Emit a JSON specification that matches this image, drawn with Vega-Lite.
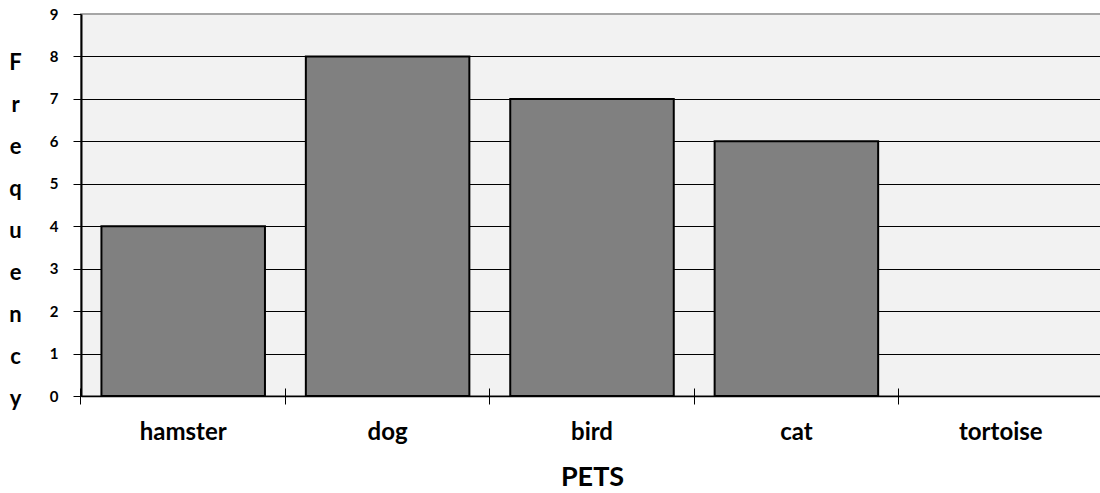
{
  "$schema": "https://vega.github.io/schema/vega-lite/v6.json",
  "autosize": "none",
  "width": 1022,
  "height": 382,
  "padding": {"left": 81, "top": 14, "right": 0, "bottom": 97},
  "config": {
    "font": "Lato",
    "view": {"fill": "#f2f2f2", "stroke": "#a6a6a6", "strokeWidth": 2}
  },
  "data": {
    "values": [
      {"pet": "hamster", "frequency": 4},
      {"pet": "dog", "frequency": 8},
      {"pet": "bird", "frequency": 7},
      {"pet": "cat", "frequency": 6},
      {"pet": "tortoise", "frequency": 0}
    ]
  },
  "layer": [
    {
      "mark": {"type": "bar", "fill": "#808080", "stroke": "#000000", "strokeWidth": 2},
      "encoding": {
        "x": {
          "field": "pet",
          "type": "nominal",
          "sort": null,
          "scale": {"paddingInner": 0.2, "paddingOuter": 0.1},
          "axis": {
            "title": "PETS",
            "titleFontSize": 27,
            "titleFontWeight": "bold",
            "titleColor": "#000000",
            "titlePadding": 20,
            "labelAngle": 0,
            "labelFontSize": 24,
            "labelFontWeight": "bold",
            "labelColor": "#000000",
            "labelPadding": 16,
            "bandPosition": -0.125,
            "tickSize": 8,
            "tickColor": "#000000",
            "domainColor": "#000000",
            "domainWidth": 1.5,
            "grid": false
          }
        },
        "y": {
          "field": "frequency",
          "type": "quantitative",
          "scale": {"domain": [0, 9], "nice": false},
          "axis": {
            "values": [0, 1, 2, 3, 4, 5, 6, 7, 8, 9],
            "title": ["F", "r", "e", "q", "u", "e", "n", "c", "y"],
            "titleAngle": 0,
            "titleX": -66,
            "titleY": 48,
            "titleAlign": "center",
            "titleBaseline": "middle",
            "titleLineHeight": 42,
            "titleFontSize": 22,
            "titleFontWeight": "bold",
            "titleColor": "#000000",
            "labelFontSize": 15,
            "labelFontWeight": "bold",
            "labelColor": "#000000",
            "labelPadding": 15,
            "tickSize": 8,
            "tickColor": "#000000",
            "domainColor": "#000000",
            "domainWidth": 2,
            "grid": true,
            "gridColor": {"condition": {"test": "datum.value == 9", "value": "#a6a6a6"}, "value": "#000000"},
            "gridOpacity": 1,
            "gridWidth": 1
          }
        },
        "strokeOpacity": {"condition": {"test": "datum.frequency == 0", "value": 0}, "value": 1}
      }
    },
    {
      "mark": {"type": "bar", "opacity": 0},
      "encoding": {
        "x": {
          "field": "pet",
          "type": "nominal",
          "sort": null,
          "axis": {
            "orient": "bottom",
            "offset": -8,
            "title": null,
            "labels": false,
            "domain": false,
            "grid": false,
            "bandPosition": -0.125,
            "tickSize": 8,
            "tickColor": "#000000"
          }
        },
        "y": {"field": "frequency", "type": "quantitative"}
      }
    }
  ],
  "resolve": {"axis": {"x": "independent"}}
}
